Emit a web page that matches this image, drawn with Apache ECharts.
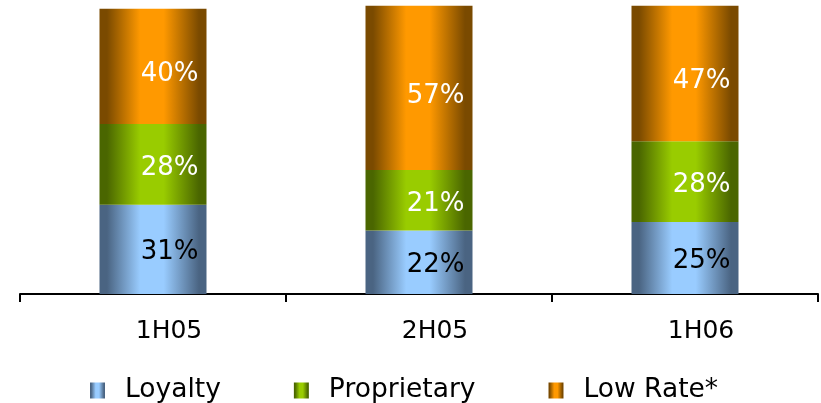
<!DOCTYPE html>
<html>
<head>
<meta charset="utf-8">
<script src="https://cdn.jsdelivr.net/npm/echarts@6/dist/echarts.min.js"></script>
<style>html,body{margin:0;padding:0;background:#fff}#c{width:821px;height:403px}</style>
</head>
<body>
<div id="c"></div>
<script>
var categories = ['1H05', '2H05', '1H06'];
var loyalty = [31, 22, 25];
var proprietary = [28, 21, 28];
var lowRate = [40, 57, 47];
var seriesNames = ['Loyalty', 'Proprietary', 'Low Rate*'];

function grad(dark, bright) {
  return new echarts.graphic.LinearGradient(0, 0, 1, 0, [
    {offset: 0, color: dark},
    {offset: 0.07, color: dark},
    {offset: 0.38, color: bright},
    {offset: 0.6, color: bright},
    {offset: 0.93, color: dark},
    {offset: 1, color: dark}
  ]);
}
var FONT = 'DejaVu Sans';
function mkSeries(name, data, dark, bright, labelColor, dy) {
  return {
    name: name, type: 'bar', stack: 'all', data: data, barWidth: 107,
    itemStyle: {color: grad(dark, bright)},
    label: {show: true, position: 'insideRight', distance: 8, offset: [0, dy],
      formatter: '{c}%', color: labelColor, fontSize: 26, fontFamily: FONT},
    emphasis: {disabled: true}
  };
}
var chart = echarts.init(document.getElementById('c'), null, {renderer: 'canvas'});
chart.setOption({
  animation: false,
  grid: {left: 20, right: 3, top: 0, bottom: 109, containLabel: false},
  xAxis: {
    type: 'category', data: categories,
    axisLine: {lineStyle: {color: '#000', width: 2}},
    axisTick: {show: true, length: 8, lineStyle: {color: '#000', width: 2}},
    axisLabel: {color: '#000', fontSize: 25, fontFamily: FONT, margin: 25, padding: [0, 0, 0, 32]}
  },
  yAxis: {type: 'value', min: 0, max: 102, show: false, splitLine: {show: false}},
  legend: {
    data: seriesNames, left: 85, top: 372, itemWidth: 15, itemHeight: 16, itemGap: 73,
    textStyle: {color: '#000', fontSize: 26.5, fontFamily: FONT, padding: [0, 0, 0, 15]},
    icon: 'rect'
  },
  series: [
    mkSeries(seriesNames[0], loyalty, '#4a6482', '#99ccff', '#000', 3),
    mkSeries(seriesNames[1], proprietary, '#4a6600', '#99cc00', '#fff', 4),
    mkSeries(seriesNames[2], lowRate, '#7a4a00', '#ff9900', '#fff', 8)
  ]
});
</script>
</body>
</html>
